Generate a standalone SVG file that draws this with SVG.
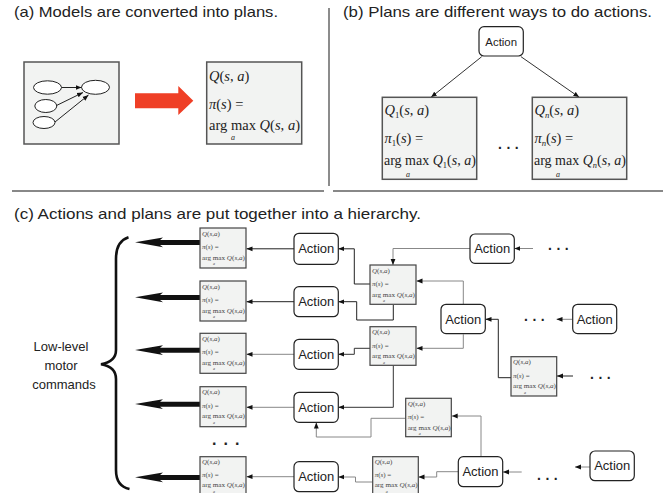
<svg xmlns="http://www.w3.org/2000/svg" width="672" height="493" viewBox="0 0 672 493">
<defs>
<style>
.box{fill:#f2f3f2;stroke:#555;stroke-width:1.5}
.sbox{fill:#f2f3f2;stroke:#444;stroke-width:1.2}
.act{fill:#fff;stroke:#222;stroke-width:1.2}
.m{font-family:"Liberation Serif",serif;font-size:14.5px;fill:#222}
.sm{font-family:"Liberation Serif",serif;font-size:7px;fill:#444}
.sub{font-size:60%}
.ss{font-family:"Liberation Serif",serif;font-size:4px;font-style:italic;fill:#444}
.bs{font-family:"Liberation Serif",serif;font-size:8px;font-style:italic;fill:#222}
.i{font-style:italic}
.t{font-family:"Liberation Sans",sans-serif;font-size:15px;fill:#222}
.lbl{font-family:"Liberation Sans",sans-serif;font-size:13px;fill:#222;text-anchor:middle}
.at{font-family:"Liberation Sans",sans-serif;font-size:13px;fill:#222;text-anchor:middle}
.dots{font-family:"Liberation Sans",sans-serif;font-size:14px;font-weight:bold;fill:#222;letter-spacing:4.5px}
.c{fill:none;stroke:#333;stroke-width:1;marker-end:url(#ah)}
.g{stroke:#888}
.k{fill:none;stroke:#222;stroke-width:1;marker-end:url(#ah)}
.div{stroke:#888;stroke-width:2;fill:none}
.thick{fill:#111}
</style>
<marker id="ah" viewBox="0 0 10 10" refX="10" refY="5" markerWidth="6" markerHeight="6" markerUnits="userSpaceOnUse" orient="auto">
<path d="M0,1 L10,5 L0,9 Z" fill="#111"/>
</marker>
</defs>
<rect width="672" height="493" fill="#fff"/>

<!-- dividers and titles -->
<g id="frame">
<line class="div" x1="12" y1="191" x2="324" y2="191"/>
<line class="div" x1="333" y1="191" x2="663" y2="191"/>
<line x1="329" y1="8" x2="329" y2="186" stroke="#666" stroke-width="1.5"/>
<text class="t" x="14" y="17" textLength="264" lengthAdjust="spacingAndGlyphs">(a) Models are converted into plans.</text>
<text class="t" x="343" y="17" textLength="309" lengthAdjust="spacingAndGlyphs">(b) Plans are different ways to do actions.</text>
<text class="t" x="14" y="218.5" textLength="407" lengthAdjust="spacingAndGlyphs">(c) Actions and plans are put together into a hierarchy.</text>
</g>

<!-- panel (a) -->
<g id="model">
<rect class="box" x="24" y="62" width="95" height="82"/>
<g fill="#fff" stroke="#222" stroke-width="1">
<ellipse cx="47.5" cy="87.5" rx="14" ry="6.7"/>
<ellipse cx="95.5" cy="87.3" rx="14" ry="7"/>
<ellipse cx="45.8" cy="106" rx="11" ry="6.5"/>
<ellipse cx="44" cy="122.5" rx="11" ry="6"/>
</g>
<path class="k" d="M61.5,87.5 H81.5"/>
<path class="k" d="M56.5,105.5 L83,92.5"/>
<path class="k" d="M55,122 L88.5,95"/>
</g>
<g id="convert-arrow">
<polygon points="135,93.3 178.3,93.3 178.3,86 193.3,100.7 178.3,115 178.3,108.3 135,108.3" fill="#ef3f26"/>
</g>
<g id="plan-a">
<rect class="box" x="206.7" y="62" width="95" height="82"/>
<text class="m" x="209" y="80.5"><tspan class="i">Q</tspan>(<tspan class="i">s</tspan>, <tspan class="i">a</tspan>)</text>
<text class="m" x="209" y="108.5"><tspan class="i">π</tspan>(<tspan class="i">s</tspan>) =</text>
<text class="m" x="209" y="130" textLength="91" lengthAdjust="spacingAndGlyphs">arg max <tspan class="i">Q</tspan>(<tspan class="i">s</tspan>, <tspan class="i">a</tspan>)</text>
<text class="bs" x="231" y="140">a</text>
</g>

<!-- panel (b) -->
<g id="b-connectors">
<path class="c" d="M481.7,56.7 L431,97.3"/>
<path class="c" d="M521,56.7 L579.3,97.3"/>
</g>
<g id="b-action">
<rect class="act" x="479" y="26.7" width="44.3" height="29.3" rx="5"/>
<text class="at" x="501.2" y="45.5" style="font-size:11.4px">Action</text>
</g>
<g id="plan-b1">
<rect class="box" x="382.3" y="97.3" width="94.4" height="82"/>
<text class="m" x="384.5" y="115"><tspan class="i">Q</tspan><tspan class="sub" dy="3">1</tspan><tspan dy="-3">(</tspan><tspan class="i">s</tspan>, <tspan class="i">a</tspan>)</text>
<text class="m" x="384.5" y="143"><tspan class="i">π</tspan><tspan class="sub" dy="3">1</tspan><tspan dy="-3">(</tspan><tspan class="i">s</tspan>) =</text>
<text class="m" x="384" y="164.5" style="font-size:14px">arg max <tspan class="i">Q</tspan><tspan class="sub" dy="3">1</tspan><tspan dy="-3">(</tspan><tspan class="i">s</tspan>, <tspan class="i">a</tspan>)</text>
<text class="bs" x="406" y="177">a</text>
</g>
<g id="b-dots"><text class="dots" x="498" y="149">...</text></g>
<g id="plan-bn">
<rect class="box" x="532.3" y="97.3" width="94.4" height="82"/>
<text class="m" x="534.5" y="115"><tspan class="i">Q</tspan><tspan class="sub i" dy="3">n</tspan><tspan dy="-3">(</tspan><tspan class="i">s</tspan>, <tspan class="i">a</tspan>)</text>
<text class="m" x="534.5" y="143"><tspan class="i">π</tspan><tspan class="sub i" dy="3">n</tspan><tspan dy="-3">(</tspan><tspan class="i">s</tspan>) =</text>
<text class="m" x="534" y="164.5" style="font-size:14px">arg max <tspan class="i">Q</tspan><tspan class="sub i" dy="3">n</tspan><tspan dy="-3">(</tspan><tspan class="i">s</tspan>, <tspan class="i">a</tspan>)</text>
<text class="bs" x="556" y="177">a</text>
</g>

<!-- panel (c) -->
<g id="c-connectors">
<path class="k" d="M294,248.8 H246.5"/>
<path class="k" d="M294,301.7 H246.5"/>
<path class="c g" d="M294,354.3 H246.5"/>
<path class="c g" d="M294,407.3 H246.5"/>
<path class="c g" d="M294,476.7 H246.5"/>
<path class="c g" d="M470,248.5 H393 V265"/>
<path class="c g" d="M533,248.5 H514.3"/>
<path class="k" d="M370,284 H354.3 V248.8 H338.3"/>
<path class="k" d="M393.3,305 V320 H356.7 V301.7 H338.3"/>
<path class="c g" d="M463.3,304.3 V281 H416.5"/>
<path class="c g" d="M463.3,334.3 V348.3 H416.5"/>
<path class="k" d="M511,377.7 H498.3 V319.3 H485.5"/>
<path class="c g" d="M572.7,319.3 H556.5"/>
<path class="k" d="M573,376 H557"/>
<path class="c" d="M370,348.3 H354.3 V354.3 H338.3"/>
<path class="c" d="M393.3,365.5 V407.3 H338.3"/>
<path class="c g" d="M481,456.7 V416 H451.7"/>
<path class="c g" d="M405.7,418.3 H371 V437 H316.3 V422.5"/>
<path class="c g" d="M458.3,471.7 H436.7 V477 H418.5"/>
<path class="c g" d="M372.7,482 H355.5 V477 H338.3"/>
<path class="c g" d="M521.7,472 H503"/>
<path class="c g" d="M590,467 H575"/>
</g>

<g id="motor-commands">
<path d="M128.5,237.3 C120,240 116,247 116,259 L116,350 C116,358 111,362.5 101,364.3 C111,366 116,371 116,379 L116,470 C116,481 120,487 129.5,489" fill="none" stroke="#111" stroke-width="2.6"/>
<text class="lbl" x="61" y="351">Low-level</text>
<text class="lbl" x="61" y="370">motor</text>
<text class="lbl" x="64" y="389">commands</text>
</g>

<g id="thick-arrows" class="thick">
<polygon points="135,242.3 163,237.5 160,240 200,240 200,245 160,245 163,247.3"/>
<polygon points="135,297.3 163,292.5 160,295 200,295 200,300 160,300 163,302.3"/>
<polygon points="135,350 163,345.2 160,347.7 200,347.7 200,352.7 160,352.7 163,355"/>
<polygon points="135,404 163,399.2 160,401.7 200,401.7 200,406.7 160,406.7 163,409"/>
<polygon points="135,477.3 163,472.5 160,475 200,475 200,480 160,480 163,482.3"/>
</g>

<g id="plan-L1">
<rect class="sbox" x="200" y="228" width="46" height="40"/>
<text class="sm" x="202" y="235.5"><tspan class="i">Q</tspan>(<tspan class="i">s</tspan>,<tspan class="i">a</tspan>)</text>
<text class="sm" x="202" y="249"><tspan class="i">π</tspan>(<tspan class="i">s</tspan>) =</text>
<text class="sm" x="202" y="259.5" textLength="43" lengthAdjust="spacingAndGlyphs">arg max <tspan class="i">Q</tspan>(<tspan class="i">s</tspan>,<tspan class="i">a</tspan>)</text>
<text class="ss" x="213" y="265">a</text>
</g>
<g id="plan-L2">
<rect class="sbox" x="200" y="281" width="46" height="40"/>
<text class="sm" x="202" y="288.5"><tspan class="i">Q</tspan>(<tspan class="i">s</tspan>,<tspan class="i">a</tspan>)</text>
<text class="sm" x="202" y="302"><tspan class="i">π</tspan>(<tspan class="i">s</tspan>) =</text>
<text class="sm" x="202" y="312.5" textLength="43" lengthAdjust="spacingAndGlyphs">arg max <tspan class="i">Q</tspan>(<tspan class="i">s</tspan>,<tspan class="i">a</tspan>)</text>
<text class="ss" x="213" y="318">a</text>
</g>
<g id="plan-L3">
<rect class="sbox" x="200" y="333.3" width="46" height="40"/>
<text class="sm" x="202" y="340.8"><tspan class="i">Q</tspan>(<tspan class="i">s</tspan>,<tspan class="i">a</tspan>)</text>
<text class="sm" x="202" y="354.3"><tspan class="i">π</tspan>(<tspan class="i">s</tspan>) =</text>
<text class="sm" x="202" y="364.8" textLength="43" lengthAdjust="spacingAndGlyphs">arg max <tspan class="i">Q</tspan>(<tspan class="i">s</tspan>,<tspan class="i">a</tspan>)</text>
<text class="ss" x="213" y="370.3">a</text>
</g>
<g id="plan-L4">
<rect class="sbox" x="200" y="386.7" width="46" height="40"/>
<text class="sm" x="202" y="394.2"><tspan class="i">Q</tspan>(<tspan class="i">s</tspan>,<tspan class="i">a</tspan>)</text>
<text class="sm" x="202" y="407.7"><tspan class="i">π</tspan>(<tspan class="i">s</tspan>) =</text>
<text class="sm" x="202" y="418.2" textLength="43" lengthAdjust="spacingAndGlyphs">arg max <tspan class="i">Q</tspan>(<tspan class="i">s</tspan>,<tspan class="i">a</tspan>)</text>
<text class="ss" x="213" y="423.7">a</text>
</g>
<g id="left-dots"><text class="dots" x="212" y="445" style="font-size:16px;letter-spacing:7px">...</text></g>
<g id="plan-L5">
<rect class="sbox" x="200" y="456.7" width="46" height="40"/>
<text class="sm" x="202" y="463.9"><tspan class="i">Q</tspan>(<tspan class="i">s</tspan>,<tspan class="i">a</tspan>)</text>
<text class="sm" x="202" y="476.8"><tspan class="i">π</tspan>(<tspan class="i">s</tspan>) =</text>
<text class="sm" x="202" y="486.6" textLength="43" lengthAdjust="spacingAndGlyphs">arg max <tspan class="i">Q</tspan>(<tspan class="i">s</tspan>,<tspan class="i">a</tspan>)</text>
<text class="ss" x="213" y="492.9">a</text>
</g>

<g id="action-L1"><rect class="act" x="294" y="233.3" width="44.3" height="31" rx="5"/><text class="at" x="316.2" y="253.3">Action</text></g>
<g id="action-L2"><rect class="act" x="294" y="286.7" width="44.3" height="30" rx="5"/><text class="at" x="316.2" y="306.2">Action</text></g>
<g id="action-L3"><rect class="act" x="294" y="339.3" width="44.3" height="30" rx="5"/><text class="at" x="316.2" y="358.8">Action</text></g>
<g id="action-L4"><rect class="act" x="294" y="392.3" width="44.3" height="30" rx="5"/><text class="at" x="316.2" y="411.8">Action</text></g>
<g id="action-L5"><rect class="act" x="294" y="461.7" width="44.3" height="30" rx="5"/><text class="at" x="316.2" y="481.2">Action</text></g>

<g id="plan-A">
<rect class="sbox" x="370" y="265" width="46" height="39.3"/>
<text class="sm" x="372" y="272.5"><tspan class="i">Q</tspan>(<tspan class="i">s</tspan>,<tspan class="i">a</tspan>)</text>
<text class="sm" x="372" y="286"><tspan class="i">π</tspan>(<tspan class="i">s</tspan>) =</text>
<text class="sm" x="372" y="296.5" textLength="43" lengthAdjust="spacingAndGlyphs">arg max <tspan class="i">Q</tspan>(<tspan class="i">s</tspan>,<tspan class="i">a</tspan>)</text>
<text class="ss" x="383" y="302">a</text>
</g>
<g id="plan-B">
<rect class="sbox" x="370" y="326.7" width="46" height="38.6"/>
<text class="sm" x="372" y="334.2"><tspan class="i">Q</tspan>(<tspan class="i">s</tspan>,<tspan class="i">a</tspan>)</text>
<text class="sm" x="372" y="347.7"><tspan class="i">π</tspan>(<tspan class="i">s</tspan>) =</text>
<text class="sm" x="372" y="358.2" textLength="43" lengthAdjust="spacingAndGlyphs">arg max <tspan class="i">Q</tspan>(<tspan class="i">s</tspan>,<tspan class="i">a</tspan>)</text>
<text class="ss" x="383" y="363.5">a</text>
</g>
<g id="plan-C">
<rect class="sbox" x="405.7" y="398.3" width="45.6" height="38.4"/>
<text class="sm" x="407.7" y="405.8"><tspan class="i">Q</tspan>(<tspan class="i">s</tspan>,<tspan class="i">a</tspan>)</text>
<text class="sm" x="407.7" y="419.3"><tspan class="i">π</tspan>(<tspan class="i">s</tspan>) =</text>
<text class="sm" x="407.7" y="429.8" textLength="43" lengthAdjust="spacingAndGlyphs">arg max <tspan class="i">Q</tspan>(<tspan class="i">s</tspan>,<tspan class="i">a</tspan>)</text>
<text class="ss" x="418.7" y="435">a</text>
</g>
<g id="plan-D">
<rect class="sbox" x="372.7" y="456.7" width="45.6" height="40"/>
<text class="sm" x="374.7" y="463.9"><tspan class="i">Q</tspan>(<tspan class="i">s</tspan>,<tspan class="i">a</tspan>)</text>
<text class="sm" x="374.7" y="476.8"><tspan class="i">π</tspan>(<tspan class="i">s</tspan>) =</text>
<text class="sm" x="374.7" y="486.6" textLength="43" lengthAdjust="spacingAndGlyphs">arg max <tspan class="i">Q</tspan>(<tspan class="i">s</tspan>,<tspan class="i">a</tspan>)</text>
<text class="ss" x="385.7" y="492.9">a</text>
</g>
<g id="plan-E">
<rect class="sbox" x="511" y="356.7" width="45.7" height="39.3"/>
<text class="sm" x="513" y="364.2"><tspan class="i">Q</tspan>(<tspan class="i">s</tspan>,<tspan class="i">a</tspan>)</text>
<text class="sm" x="513" y="377.7"><tspan class="i">π</tspan>(<tspan class="i">s</tspan>) =</text>
<text class="sm" x="513" y="388.2" textLength="43" lengthAdjust="spacingAndGlyphs">arg max <tspan class="i">Q</tspan>(<tspan class="i">s</tspan>,<tspan class="i">a</tspan>)</text>
<text class="ss" x="524" y="393.7">a</text>
</g>

<g id="action-TR"><rect class="act" x="470" y="234" width="44.3" height="29.3" rx="5"/><text class="at" x="492.2" y="253.2">Action</text></g>
<g id="action-M"><rect class="act" x="441" y="304.3" width="44.3" height="29.3" rx="5"/><text class="at" x="463.2" y="323.5">Action</text></g>
<g id="action-R"><rect class="act" x="572.7" y="304.3" width="44" height="29.3" rx="5"/><text class="at" x="594.7" y="323.5">Action</text></g>
<g id="action-BM"><rect class="act" x="458.3" y="456.7" width="44.4" height="30" rx="5"/><text class="at" x="480.5" y="476.2">Action</text></g>
<g id="action-BR"><rect class="act" x="590" y="451" width="44.3" height="29.7" rx="5"/><text class="at" x="612.2" y="470.3">Action</text></g>

<g id="c-dots">
<text class="dots" x="548" y="250">...</text>
<text class="dots" x="524" y="320.5">...</text>
<text class="dots" x="590" y="379">...</text>
<text class="dots" x="537" y="480">...</text>
</g>
</svg>
